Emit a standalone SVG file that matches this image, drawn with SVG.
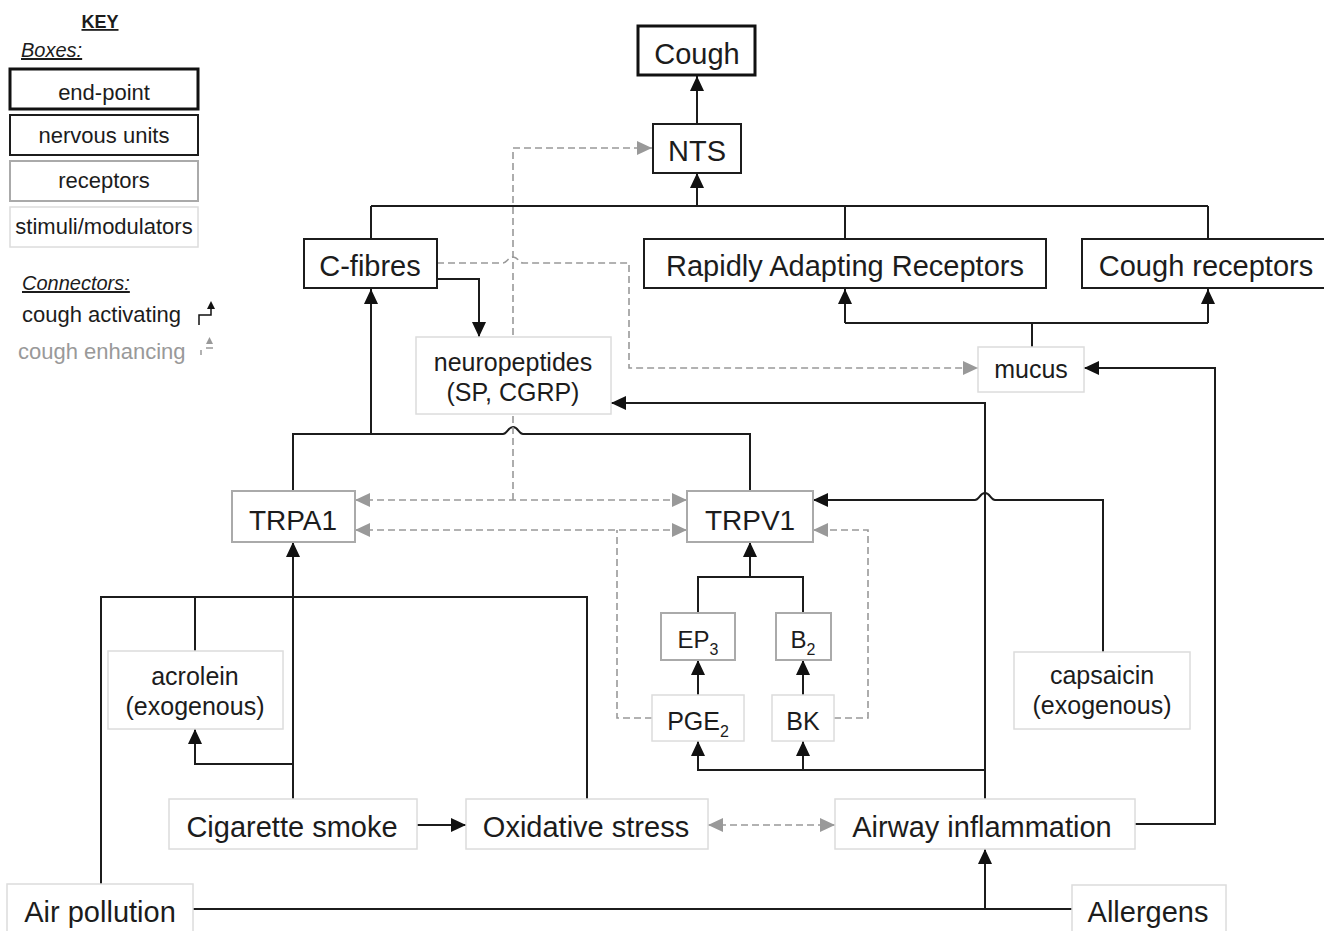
<svg xmlns="http://www.w3.org/2000/svg" width="1324" height="931" viewBox="0 0 1324 931">
<defs>
<style>
text{font-family:"Liberation Sans",Arial,Helvetica,sans-serif;fill:#1c1c1c}
.c{text-anchor:middle}
.big{font-size:29px}
.med{font-size:25px}
.key{font-size:22px}
.sub{font-size:16px}
.end{fill:#fff;stroke:#111;stroke-width:3}
.nerv{fill:#fff;stroke:#1c1c1c;stroke-width:2}
.rec{fill:#fff;stroke:#aaa;stroke-width:2}
.stim{fill:#fff;stroke:#dcdcdc;stroke-width:1.5}
.s{fill:none;stroke:#1c1c1c;stroke-width:2}
.d{fill:none;stroke:#999;stroke-width:1.6;stroke-dasharray:7 4}
.ah{marker-end:url(#ah)}
.ag{marker-end:url(#ag)}
.ag2{marker-start:url(#ag);marker-end:url(#ag)}
</style>
<marker id="ah" viewBox="0 0 15 14" refX="15" refY="7" markerWidth="15" markerHeight="14" markerUnits="userSpaceOnUse" orient="auto-start-reverse"><path d="M0,0L15,7L0,14z" fill="#111"/></marker>
<marker id="ag" viewBox="0 0 15 14" refX="15" refY="7" markerWidth="15" markerHeight="14" markerUnits="userSpaceOnUse" orient="auto-start-reverse"><path d="M0,0L15,7L0,14z" fill="#999"/></marker>
</defs>
<rect width="1324" height="931" fill="#fff"/>

<g id="key">
<text x="100" y="28" class="c" style="font-size:18px;font-weight:bold;text-decoration:underline">KEY</text>
<text x="21" y="57" style="font-size:20px;font-style:italic;text-decoration:underline">Boxes:</text>
<rect x="10" y="69" width="188" height="40" class="end"/>
<text x="104" y="100" class="c key">end-point</text>
<rect x="10" y="115" width="188" height="40" class="nerv"/>
<text x="104" y="143" class="c key">nervous units</text>
<rect x="10" y="161" width="188" height="40" class="rec"/>
<text x="104" y="188" class="c key">receptors</text>
<rect x="10" y="207" width="188" height="40" class="stim"/>
<text x="104" y="234" class="c key">stimuli/modulators</text>
<text x="22" y="290" style="font-size:20px;font-style:italic;text-decoration:underline">Connectors:</text>
<text x="22" y="322" class="key">cough activating</text>
<path d="M199,325V315H211V308" fill="none" stroke="#111" stroke-width="1.5"/>
<path d="M207,309L215,309L211,301z" fill="#111"/>
<text x="18" y="359" class="key" style="fill:#999">cough enhancing</text>
<path d="M201,350V355M206,348H213" fill="none" stroke="#999" stroke-width="1.5"/>
<path d="M206,344L213,344L209.5,337z" fill="#999"/>
</g>

<g id="connectors">
<!-- solid -->
<path class="s ah" d="M697,124V76"/>
<path class="s" d="M371,206H1208M371,206V239M845,206V239M1208,206V239"/>
<path class="s ah" d="M697,206V173"/>
<path class="s ah" d="M437,279H479V337"/>
<path class="s ah" d="M985,799V403H611"/>
<path class="s ah" d="M985,770H698V741"/>
<path class="s ah" d="M803,770V741"/>
<path class="s ah" d="M1135,824H1215V368H1084"/>
<path class="s" d="M1032,347V323M845,323H1208"/>
<path class="s ah" d="M845,323V289"/>
<path class="s ah" d="M1208,323V289"/>
<path class="s" d="M293,491V434H503C507,434 508,427 513,427C518,427 519,434 523,434H750V491"/>
<path class="s ah" d="M371,434V289"/>
<path class="s ah" d="M1103,652V500H995C991,500 990,493 985,493C980,493 979,500 975,500H813"/>
<path class="s" d="M698,613V577H803V613"/>
<path class="s ah" d="M750,577V542"/>
<path class="s ah" d="M698,695V660"/>
<path class="s ah" d="M803,695V660"/>
<path class="s" d="M101,884V597H587V799M195,651V597"/>
<path class="s ah" d="M293,799V542"/>
<path class="s ah" d="M293,764H195V729"/>
<path class="s ah" d="M417,825H466"/>
<path class="s" d="M193,909H1072"/>
<path class="s ah" d="M985,909V849"/>
<!-- dashed -->
<path class="d ag" d="M513,500V148H652"/>
<path class="d ag2" d="M355,500H687"/>
<path class="d ag2" d="M355,530H687"/>
<path class="d" d="M652,718H617V530"/>
<path class="d ag" d="M834,718H868V530H813"/>
<path class="d ag" d="M437,263H503C507,263 508,257 513,257C518,257 519,263 523,263H629V368H978"/>
<path class="d ag2" d="M708,825H835"/>
</g>

<g id="cough"><rect x="638" y="26" width="117" height="49" class="end"/><text x="697" y="64" class="c big">Cough</text></g>
<g id="nts"><rect x="653" y="124" width="88" height="49" class="nerv"/><text x="697" y="161" class="c big">NTS</text></g>
<g id="cfibres"><rect x="304" y="239" width="133" height="49" class="nerv"/><text x="370" y="276" class="c big">C-fibres</text></g>
<g id="rar"><rect x="644" y="239" width="402" height="49" class="nerv"/><text x="845" y="276" class="c big">Rapidly Adapting Receptors</text></g>
<g id="coughreceptors"><rect x="1082" y="239" width="260" height="49" class="nerv"/><text x="1206" y="276" class="c big">Cough receptors</text></g>
<g id="neuropeptides"><rect x="416" y="337" width="195" height="77" class="stim"/><text x="513" y="371" class="c med">neuropeptides</text><text x="513" y="401" class="c med">(SP, CGRP)</text></g>
<g id="mucus"><rect x="978" y="347" width="106" height="45" class="stim"/><text x="1031" y="378" class="c med">mucus</text></g>
<g id="trpa1"><rect x="232" y="491" width="123" height="51" class="rec"/><text x="293" y="530" class="c" style="font-size:28px">TRPA1</text></g>
<g id="trpv1"><rect x="687" y="491" width="126" height="51" class="rec"/><text x="750" y="530" class="c" style="font-size:28px">TRPV1</text></g>
<g id="ep3"><rect x="661" y="613" width="74" height="47" class="rec"/><text x="698" y="648" class="c" style="font-size:24px">EP<tspan class="sub" dy="7">3</tspan></text></g>
<g id="b2"><rect x="776" y="613" width="55" height="47" class="rec"/><text x="803" y="648" class="c" style="font-size:24px">B<tspan class="sub" dy="7">2</tspan></text></g>
<g id="pge2"><rect x="652" y="695" width="92" height="46" class="stim"/><text x="698" y="730" class="c med">PGE<tspan class="sub" dy="7">2</tspan></text></g>
<g id="bk"><rect x="772" y="695" width="62" height="46" class="stim"/><text x="803" y="730" class="c med">BK</text></g>
<g id="acrolein"><rect x="108" y="651" width="175" height="78" class="stim"/><text x="195" y="685" class="c med">acrolein</text><text x="195" y="715" class="c med">(exogenous)</text></g>
<g id="capsaicin"><rect x="1014" y="652" width="176" height="77" class="stim"/><text x="1102" y="684" class="c med">capsaicin</text><text x="1102" y="714" class="c med">(exogenous)</text></g>
<g id="cigarette"><rect x="169" y="799" width="248" height="50" class="stim"/><text x="292" y="837" class="c big">Cigarette smoke</text></g>
<g id="oxidative"><rect x="466" y="799" width="242" height="50" class="stim"/><text x="586" y="837" class="c big">Oxidative stress</text></g>
<g id="airway"><rect x="835" y="799" width="300" height="50" class="stim"/><text x="982" y="837" class="c big">Airway inflammation</text></g>
<g id="airpollution"><rect x="7" y="884" width="186" height="60" class="stim"/><text x="100" y="922" class="c big">Air pollution</text></g>
<g id="allergens"><rect x="1072" y="885" width="154" height="60" class="stim"/><text x="1148" y="922" class="c big">Allergens</text></g>
</svg>
